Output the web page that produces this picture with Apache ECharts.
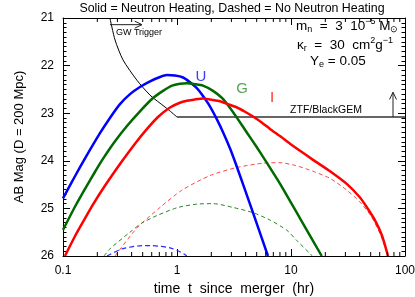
<!DOCTYPE html>
<html><head><meta charset="utf-8">
<script src="https://cdn.jsdelivr.net/npm/echarts@6/dist/echarts.min.js"></script>
<style>html,body{margin:0;padding:0;background:#fff}#c{width:415px;height:297px}</style>
</head><body><div id="c"></div>
<script>
// ---- data (time in hr, AB mag) ----
const xMajorTicks = [0.1, 1, 10, 100];
const xMinorTicks = [0.2,0.3,0.4,0.5,0.6,0.7,0.8,0.9,2,3,4,5,6,7,8,9,20,30,40,50,60,70,80,90];
const yTickLabels = [21, 22, 23, 24, 25, 26];

const uSolid = [[0.1,24.79],[0.127,24.33],[0.156,23.95],[0.211,23.42],[0.258,23.1],[0.316,22.81],[0.387,22.6],[0.473,22.45],[0.58,22.33],[0.71,22.24],[0.817,22.2],[0.96,22.21],[1.13,22.25],[1.3,22.35],[1.5,22.48],[1.69,22.64],[1.95,22.86],[2.24,23.13],[2.58,23.44],[2.92,23.74],[3.23,24.02],[3.95,24.61],[4.83,25.21],[6.28,26.0]];
const gSolid = [[0.1,25.45],[0.127,24.97],[0.156,24.59],[0.191,24.23],[0.224,23.96],[0.286,23.59],[0.364,23.27],[0.473,22.96],[0.616,22.68],[0.754,22.53],[0.904,22.42],[1.06,22.38],[1.22,22.37],[1.44,22.39],[1.69,22.42],[2.07,22.53],[2.48,22.68],[2.92,22.89],[3.43,23.13],[4.11,23.41],[4.93,23.69],[5.91,23.98],[8.0,24.48],[12.0,25.21],[18.6,26.0]];
const iSolid = [[0.104,26.0],[0.127,25.59],[0.156,25.21],[0.183,24.92],[0.234,24.52],[0.329,24.01],[0.428,23.64],[0.546,23.33],[0.681,23.08],[0.868,22.88],[1.06,22.78],[1.22,22.74],[1.44,22.71],[1.69,22.69],[2.03,22.72],[2.38,22.75],[2.8,22.81],[3.36,22.88],[3.95,22.97],[4.64,23.07],[5.57,23.2],[6.54,23.33],[8.0,23.48],[9.8,23.64],[12.0,23.79],[15.6,23.98],[22.0,24.22],[31.0,24.49],[40.3,24.77],[46.4,24.98],[54.6,25.25],[62.8,25.57],[71.0,26.0]];

const uDashed = [[0.243,26.0],[0.33,25.85],[0.45,25.79],[0.58,25.78],[0.87,25.83],[1.06,25.91],[1.22,26.0]];
const gDashed = [[0.229,26.0],[0.258,25.85],[0.387,25.5],[0.49,25.31],[0.668,25.15],[1.02,24.98],[1.5,24.91],[2.07,24.9],[3.1,24.98],[4.64,25.09],[6.6,25.25],[9.2,25.46],[11.3,25.68],[15.4,26.0]];
const iDashed = [[0.286,26.0],[0.446,25.41],[0.71,24.98],[1.1,24.62],[1.95,24.31],[3.36,24.14],[5.68,24.05],[8.0,24.04],[11,24.1],[15.6,24.22],[22,24.37],[31,24.62],[40,24.86],[50,25.15],[60.4,25.53],[71,26.0]];

const gwCurve = [[0.258,21.0],[0.286,21.46],[0.336,21.88],[0.446,22.31],[0.58,22.62],[0.71,22.79],[0.834,22.92],[1.0,23.08]];
const ztfLimit = [[1.0,23.08],[100,23.08]];
const arrows = [[0.258,21.14,0.493,21.14],[78.5,23.08,78.5,22.56]];

const chart = echarts.init(document.getElementById('c'), null, {renderer:'canvas'});
const FONT = 'Liberation Sans';
function lineSeries(data, color, width, dashed, smooth) {
  return {type:'line', data, symbol:'none', smooth: smooth, clip:true,
    lineStyle:{color, width, type: dashed ? dashed : 'solid'}, z: dashed ? 2 : 3};
}
const axisCommon = {
  axisLine:{show:true, lineStyle:{color:'#000', width:1}},
  splitLine:{show:false},
};
const richParam = {
  a:{fontSize:13.5, lineHeight:17, fontFamily:FONT, color:'#000'},
  b:{fontSize:9, lineHeight:10, verticalAlign:'bottom', fontFamily:FONT, color:'#000'},
  c:{fontSize:9, lineHeight:10, verticalAlign:'top', fontFamily:FONT, color:'#000'}
};
chart.setOption({
  animation:false,
  backgroundColor:'#fff',
  textStyle:{fontFamily:FONT},
  grid:{left:63, right:10, top:18, bottom:41, containLabel:false, outerBoundsMode:'none'},
  xAxis:[
    Object.assign({type:'log', logBase:10, min:0.1, max:100, position:'bottom',
      axisTick:{inside:true, length:7, lineStyle:{color:'#000'}},
      axisLabel:{fontSize:12, color:'#000', margin:9, fontFamily:FONT, formatter:v=>String(+(+v).toPrecision(3))},
      name:'time  t  since  merger  (hr)', nameLocation:'middle', nameGap:25,
      nameTextStyle:{fontSize:14, color:'#000', fontFamily:FONT}}, axisCommon),
    Object.assign({type:'log', logBase:10, min:0.1, max:100, position:'top',
      axisTick:{inside:true, length:7, lineStyle:{color:'#000'}},
      axisLabel:{show:false}}, axisCommon)
  ],
  yAxis:[
    Object.assign({type:'value', inverse:true, min:21, max:26, interval:1, position:'left',
      axisTick:{inside:true, length:7, lineStyle:{color:'#000'}},
      minorTick:{show:true, splitNumber:10, length:3.5, lineStyle:{color:'#000'}},
      axisLabel:{fontSize:12, color:'#000', margin:9, fontFamily:FONT},
      name:'AB Mag (D = 200 Mpc)', nameLocation:'middle', nameGap:37, nameRotate:90,
      nameTextStyle:{fontSize:13, color:'#000', fontFamily:FONT}}, axisCommon),
    Object.assign({type:'value', inverse:true, min:21, max:26, interval:1, position:'right',
      axisTick:{inside:true, length:7, lineStyle:{color:'#000'}},
      minorTick:{show:true, splitNumber:10, length:3.5, lineStyle:{color:'#000'}},
      axisLabel:{show:false}}, axisCommon)
  ],
  series:[
    lineSeries(iDashed, '#ff4545', 1, [4,3], 0.25),
    lineSeries(gDashed, '#2a852a', 1, [4,3], 0.25),
    lineSeries(uDashed, '#2a2aff', 1.2, [5,3], 0.25),
    lineSeries(gwCurve, '#000', 1, null, 0.25),
    lineSeries(ztfLimit, '#333', 1.3, null, false),
    lineSeries(uSolid, '#0000ff', 2.5, null, 0.2),
    lineSeries(gSolid, '#006a00', 2.5, null, 0.2),
    lineSeries(iSolid, '#ff0000', 2.5, null, 0.2),
    {type:'custom', data: xMinorTicks.map(v=>[v,26]), encode:{x:0,y:1}, silent:true, z:5,
      renderItem:(p, api)=>{
        const v = api.value(0);
        const b = api.coord([v,26]), t = api.coord([v,21]);
        return {type:'group', children:[
          {type:'line', shape:{x1:b[0],y1:b[1],x2:b[0],y2:b[1]-4}, style:{stroke:'#000',lineWidth:1}},
          {type:'line', shape:{x1:t[0],y1:t[1],x2:t[0],y2:t[1]+4}, style:{stroke:'#000',lineWidth:1}}
        ]};
      }},
    {type:'custom', data: arrows, encode:{x:[0,2], y:[1,3]}, silent:true, z:5,
      renderItem:(p, api)=>{
        const p1 = api.coord([api.value(0), api.value(1)]);
        const p2 = api.coord([api.value(2), api.value(3)]);
        const ang = Math.atan2(p2[1]-p1[1], p2[0]-p1[0]);
        const L = 8, a = 0.45;
        const h1 = [p2[0]-L*Math.cos(ang-a), p2[1]-L*Math.sin(ang-a)];
        const h2 = [p2[0]-L*Math.cos(ang+a), p2[1]-L*Math.sin(ang+a)];
        return {type:'group', children:[
          {type:'line', shape:{x1:p1[0],y1:p1[1],x2:p2[0],y2:p2[1]}, style:{stroke:'#222', lineWidth:1}},
          {type:'polyline', shape:{points:[h1,p2,h2]}, style:{stroke:'#222', lineWidth:1, fill:null}}
        ]};
      }}
  ],
  graphic:[
    {type:'text', x:232, y:9, style:{text:'Solid = Neutron Heating, Dashed = No Neutron Heating', font:'12.4px '+FONT, fill:'#000', textAlign:'center', textVerticalAlign:'middle'}},
    {type:'text', x:139, y:33, style:{text:'GW Trigger', font:'9px '+FONT, fill:'#000', textAlign:'center', textVerticalAlign:'middle'}},
    {type:'text', x:326, y:110, style:{text:'ZTF/BlackGEM', font:'10.5px '+FONT, fill:'#000', textAlign:'center', textVerticalAlign:'middle'}},
    {type:'text', x:201, y:77, style:{text:'U', font:'15px '+FONT, fill:'#3c3cff', textAlign:'center', textVerticalAlign:'middle'}},
    {type:'text', x:242, y:89, style:{text:'G', font:'15px '+FONT, fill:'#5aa25a', textAlign:'center', textVerticalAlign:'middle'}},
    {type:'text', x:272, y:98, style:{text:'I', font:'15px '+FONT, fill:'#ff3030', textAlign:'center', textVerticalAlign:'middle'}},
    {type:'text', x:296, y:26, style:{text:'{a|m}{b|n}{a|  =  3  10}{c|−5}{a| M}{b|⊙}', textVerticalAlign:'middle', rich:richParam}},
    {type:'text', x:297, y:45, style:{text:'{a|κ}{b|r}{a|  =  30  cm}{c|2}{a|g}{c|−1}', textVerticalAlign:'middle', rich:richParam}},
    {type:'text', x:310, y:61, style:{text:'{a|Y}{b|e}{a| = 0.05}', textVerticalAlign:'middle', rich:richParam}}
  ]
});
</script></body></html>
